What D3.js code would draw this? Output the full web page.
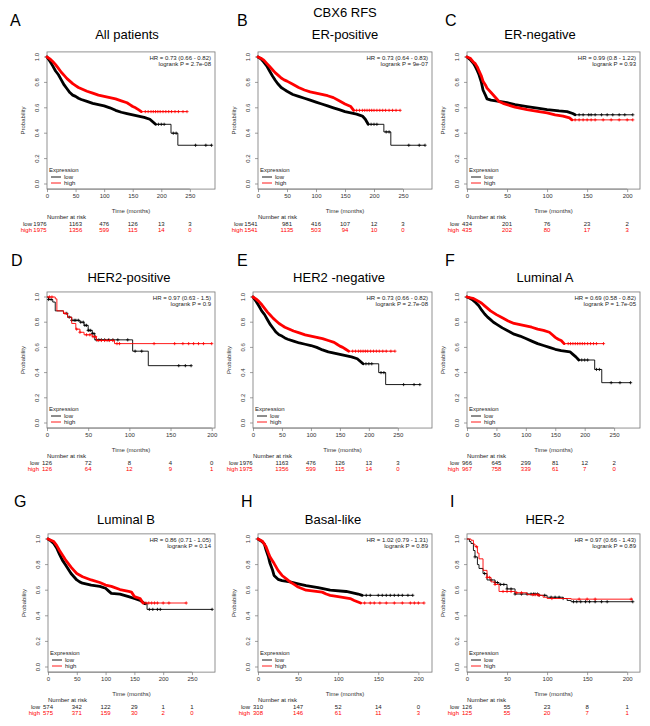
<!DOCTYPE html>
<html>
<head>
<meta charset="utf-8">
<script src="https://cdn.jsdelivr.net/npm/d3@7"></script>
<style>
body { margin: 0; background: #fff; }
svg { display: block; }
text { font-family: "Liberation Sans", Arial, sans-serif; }
</style>
</head>
<body>
<svg width="650" height="726"></svg>
<script>
// ---- data ----
const mainTitle = "CBX6 RFS";
const letters = ["A", "B", "C", "D", "E", "F", "G", "H", "I"];
const titles = ["All patients", "ER-positive", "ER-negative", "HER2-positive", "HER2 -negative",
                "Luminal A", "Luminal B", "Basal-like", "HER-2"];
const hrText = ["HR = 0.73 (0.66 - 0.82)", "HR = 0.73 (0.64 - 0.83)", "HR = 0.99 (0.8 - 1.22)",
                "HR = 0.97 (0.63 - 1.5)", "HR = 0.73 (0.66 - 0.82)", "HR = 0.69 (0.58 - 0.82)",
                "HR = 0.86 (0.71 - 1.05)", "HR = 1.02 (0.79 - 1.31)", "HR = 0.97 (0.66 - 1.43)"];
const pText = ["logrank P = 2.7e-08", "logrank P = 9e-07", "logrank P = 0.93",
               "logrank P = 0.9", "logrank P = 2.7e-08", "logrank P = 1.7e-05",
               "logrank P = 0.14", "logrank P = 0.89", "logrank P = 0.89"];
const ticks250 = [0, 50, 100, 150, 200, 250];
const ticks200 = [0, 50, 100, 150, 200];
const xTicks = [ticks250, ticks250, ticks200, ticks200, ticks250, ticks250, ticks250, ticks200, ticks200];
const xMax = [294, 300, 216, 204, 309, 294, 290, 217, 216];
const yTicks = [0, 0.2, 0.4, 0.6, 0.8, 1.0];

const riskLow = [
  [1976, 1163, 476, 126, 13, 3], [1541, 981, 416, 107, 12, 3], [434, 201, 76, 23, 2],
  [126, 72, 8, 4, 0], [1976, 1163, 476, 126, 13, 3], [966, 645, 299, 81, 12, 2],
  [574, 342, 122, 29, 1, 1], [310, 147, 52, 14, 0], [126, 55, 23, 8, 1]
];
const riskHigh = [
  [1975, 1356, 599, 115, 14, 0], [1541, 1135, 503, 94, 10, 0], [435, 202, 80, 17, 3],
  [126, 64, 12, 9, 1], [1975, 1356, 599, 115, 14, 0], [967, 758, 339, 61, 7, 0],
  [575, 371, 159, 30, 2, 0], [308, 146, 61, 11, 3], [125, 55, 20, 7, 1]
];

// survival: [month, survival]
const lowA = [[0,1],[3,0.98],[6,0.96],[10,0.93],[15,0.89],[20,0.86],[25,0.82],[30,0.78],[35,0.75],[40,0.72],[45,0.70],[50,0.69],[55,0.675],[60,0.665],[70,0.65],[80,0.635],[90,0.625],[100,0.615],[110,0.60],[120,0.58],[130,0.565],[140,0.555],[150,0.545],[160,0.535],[170,0.525],[180,0.51],[185,0.49],[190,0.47],[217,0.40],[229,0.305],[288,0.305]];
const highA = [[0,1],[5,0.985],[10,0.965],[15,0.94],[20,0.91],[25,0.88],[30,0.855],[35,0.83],[40,0.81],[45,0.79],[50,0.775],[55,0.76],[60,0.75],[70,0.73],[80,0.715],[90,0.70],[100,0.69],[110,0.68],[120,0.67],[130,0.655],[140,0.64],[145,0.625],[150,0.61],[155,0.60],[160,0.585],[165,0.57],[245,0.57]];
const lowB = [[0,1],[5,0.985],[10,0.96],[15,0.93],[20,0.89],[25,0.85],[30,0.815],[35,0.785],[40,0.76],[45,0.745],[50,0.73],[60,0.705],[70,0.69],[80,0.675],[90,0.66],[100,0.645],[110,0.63],[120,0.615],[130,0.60],[140,0.585],[150,0.57],[160,0.56],[170,0.55],[180,0.535],[185,0.51],[190,0.47],[217,0.41],[229,0.305],[288,0.305]];
const highB = [[0,1],[5,0.99],[10,0.975],[15,0.95],[20,0.925],[25,0.90],[30,0.875],[35,0.855],[40,0.835],[45,0.82],[50,0.81],[60,0.785],[70,0.76],[80,0.74],[90,0.725],[100,0.715],[110,0.705],[120,0.695],[130,0.68],[140,0.655],[150,0.63],[160,0.61],[165,0.58],[245,0.58]];
const lowC = [[0,1],[4,0.98],[8,0.95],[10,0.93],[13,0.89],[15,0.86],[18,0.80],[20,0.74],[23,0.70],[25,0.67],[30,0.66],[40,0.65],[50,0.64],[60,0.625],[75,0.61],[90,0.595],[100,0.585],[115,0.575],[125,0.57],[132,0.555],[135,0.545],[207,0.545]];
const highC = [[0,1],[4,0.99],[8,0.96],[10,0.95],[13,0.92],[15,0.89],[18,0.85],[20,0.81],[23,0.78],[25,0.755],[30,0.72],[35,0.685],[40,0.65],[45,0.635],[50,0.625],[60,0.605],[75,0.585],[90,0.57],[100,0.56],[110,0.545],[120,0.535],[128,0.52],[131,0.505],[207,0.505]];
const lowD = [[0,1],[2,0.98],[7,0.96],[10,0.89],[20,0.87],[25,0.84],[30,0.815],[40,0.80],[45,0.775],[50,0.735],[55,0.71],[58,0.66],[104,0.57],[123,0.455],[175,0.455]];
const highD = [[0,1],[10,0.985],[12,0.89],[20,0.87],[25,0.84],[30,0.79],[35,0.745],[40,0.72],[45,0.70],[55,0.685],[60,0.655],[82,0.63],[200,0.63]];
const lowE = lowA;   // HER2-negative shows the same numbers as all patients
const highE = highA;
const lowF = [[0,1],[5,0.99],[10,0.975],[15,0.955],[20,0.93],[25,0.895],[30,0.865],[35,0.84],[40,0.82],[45,0.80],[50,0.785],[60,0.755],[70,0.73],[80,0.705],[90,0.69],[100,0.67],[110,0.65],[120,0.63],[130,0.615],[140,0.60],[150,0.585],[160,0.575],[175,0.565],[180,0.545],[185,0.525],[190,0.50],[217,0.425],[229,0.32],[278,0.32]];
const highF = [[0,1],[10,0.99],[20,0.965],[25,0.95],[30,0.93],[40,0.89],[50,0.86],[60,0.835],[70,0.81],[80,0.79],[90,0.78],[100,0.77],[110,0.76],[120,0.745],[130,0.735],[140,0.72],[145,0.70],[150,0.68],[155,0.665],[160,0.655],[165,0.63],[232,0.63]];
const lowG = [[0,1],[5,0.985],[10,0.965],[15,0.93],[20,0.88],[25,0.835],[30,0.80],[35,0.765],[40,0.73],[45,0.705],[50,0.68],[55,0.665],[60,0.655],[75,0.64],[90,0.63],[100,0.615],[105,0.595],[110,0.575],[125,0.57],[140,0.55],[150,0.535],[160,0.52],[168,0.495],[172,0.45],[285,0.45]];
const highG = [[0,1],[5,0.99],[10,0.98],[15,0.95],[20,0.91],[25,0.875],[30,0.84],[35,0.81],[40,0.78],[45,0.755],[50,0.73],[60,0.705],[75,0.68],[90,0.66],[100,0.64],[110,0.63],[125,0.605],[140,0.59],[145,0.585],[150,0.55],[160,0.535],[165,0.50],[240,0.50]];
const lowH = [[0,1],[5,0.98],[8,0.96],[10,0.915],[13,0.86],[15,0.81],[18,0.76],[20,0.715],[25,0.685],[30,0.675],[40,0.665],[50,0.65],[60,0.635],[75,0.62],[90,0.60],[110,0.59],[125,0.57],[130,0.56],[193,0.56]];
const highH = [[0,1],[5,0.985],[8,0.96],[10,0.94],[13,0.89],[15,0.86],[18,0.83],[20,0.81],[25,0.755],[30,0.715],[35,0.69],[40,0.665],[45,0.645],[50,0.625],[60,0.60],[80,0.585],[85,0.57],[90,0.56],[100,0.55],[115,0.535],[120,0.52],[128,0.50],[207,0.50]];
const lowI = [[0,1],[3,0.98],[5,0.965],[8,0.91],[10,0.86],[13,0.80],[15,0.77],[20,0.73],[25,0.68],[35,0.66],[40,0.645],[50,0.61],[60,0.57],[90,0.56],[100,0.545],[120,0.535],[125,0.52],[130,0.51],[207,0.51]];
const highI = [[0,1],[5,0.99],[8,0.96],[10,0.94],[13,0.89],[15,0.845],[20,0.755],[25,0.70],[30,0.665],[35,0.645],[40,0.59],[60,0.58],[75,0.565],[90,0.56],[95,0.545],[100,0.535],[130,0.53],[207,0.53]];

// censored times (the "+" marks) outside the heavily censored stretch
const censLowA = [195, 200, 205, 221, 226, 260, 278, 288];
const censHighA = [172, 177, 182, 186, 190, 194, 198, 203, 208, 213, 218, 224, 230, 238, 245];
const censLowB = [195, 200, 205, 221, 226, 260, 278, 288];
const censHighB = [170, 175, 180, 184, 188, 192, 196, 200, 205, 210, 215, 220, 226, 232, 238, 245];
const censLowC = [140, 145, 152, 155, 160, 168, 175, 182, 190, 197, 207];
const censHighC = [135, 140, 145, 150, 155, 160, 170, 180, 190, 200, 207];
const censLowD = [2, 5, 24, 27, 30, 33, 35, 38, 41, 44, 46, 48, 50, 51, 53, 55, 57, 60, 63, 66, 70, 75, 80, 86, 98, 107, 115, 160, 168, 175];
const censHighD = [3, 6, 22, 36, 40, 48, 52, 56, 59, 62, 66, 70, 73, 76, 80, 85, 88, 130, 155, 165, 172, 178, 184, 190, 200];
const censLowE = censLowA;
const censHighE = censHighA;
const censLowF = [195, 200, 205, 220, 225, 245, 260, 278];
const censHighF = [172, 176, 180, 184, 188, 192, 196, 200, 205, 210, 215, 220, 232];
const censLowG = [170, 176, 182, 190, 195, 285];
const censHighG = [170, 175, 180, 185, 190, 200, 210, 240];
const censLowH = [135, 140, 150, 155, 160, 165, 170, 175, 180, 187, 193];
const censHighH = [133, 140, 145, 152, 160, 170, 180, 190, 195, 200, 207];
const censLowI = [10, 22, 30, 35, 38, 42, 46, 50, 55, 60, 68, 75, 80, 83, 85, 88, 90, 97, 105, 110, 115, 120, 133, 137, 142, 148, 153, 160, 168, 175, 207];
const censHighI = [12, 25, 28, 35, 45, 50, 55, 62, 68, 82, 85, 88, 90, 106, 140, 150, 160, 205];

// month ranges so heavily censored that the marks merge into a bold line
const denseLow = [[0, 190], [0, 190], [0, 135], [0, 0], [0, 190], [0, 190], [0, 168], [0, 130], [0, 0]];
const denseHigh = [[0, 165], [0, 165], [0, 131], [0, 0], [0, 165], [0, 165], [0, 165], [0, 128], [0, 0]];

const lowCurves = [lowA, lowB, lowC, lowD, lowE, lowF, lowG, lowH, lowI];
const highCurves = [highA, highB, highC, highD, highE, highF, highG, highH, highI];
const lowCens = [censLowA, censLowB, censLowC, censLowD, censLowE, censLowF, censLowG, censLowH, censLowI];
const highCens = [censHighA, censHighB, censHighC, censHighD, censHighE, censHighF, censHighG, censHighH, censHighI];

// ---- layout ----
const boxL = [47, 258, 467, 47, 253, 467, 48, 258, 467];
const boxR = [215, 432, 640, 215, 432, 640, 215, 432, 640];
const rowTop = [57, 297, 539];   // y of p = 1
const rowBot = [184, 423, 667];  // y of p = 0
const letterX = [10, 237, 445, 11, 237, 445, 14, 241, 450];
const letterY = [26, 266, 507];
const titleX = [127, 345, 540, 129, 339, 545, 126, 333, 545];
const titleY = [39, 282, 524];

const svg = d3.select("svg");
const small = 6;
const RED = "#ff0000";

svg.append("text")
    .attr("x", 345).attr("y", 17)
    .attr("text-anchor", "middle")
    .attr("font-size", 13)
    .text(mainTitle);

function survAt(curve, t) {
    let s = curve[0][1];
    for (const [ti, si] of curve) {
        if (ti <= t) s = si; else break;
    }
    return s;
}

function clipCurve(curve, a, b) {
    const pts = [[a, survAt(curve, a)]];
    curve.forEach(([t, s]) => { if (t > a && t < b) pts.push([t, s]); });
    pts.push([b, survAt(curve, b)]);
    return pts;
}

letters.forEach((L, i) => {
    const r = Math.floor(i / 3);
    const x = d3.scaleLinear().domain([0, xMax[i]]).range([boxL[i], boxR[i]]);
    const y = d3.scaleLinear().domain([0, 1]).range([rowBot[r], rowTop[r]]);
    const pad = 0.04 * (rowBot[r] - rowTop[r]);
    const bTop = rowTop[r] - pad, bBot = rowBot[r] + pad;
    const g = svg.append("g");

    g.append("text")
        .attr("x", letterX[i]).attr("y", letterY[r])
        .attr("font-size", 16)
        .text(L);
    g.append("text")
        .attr("x", titleX[i]).attr("y", titleY[r])
        .attr("text-anchor", "middle")
        .attr("font-size", 13)
        .text(titles[i]);

    // x axis
    const xa = d3.axisBottom(x).tickValues(xTicks[i]).tickSize(3).tickPadding(2).tickFormat(d3.format("d"));
    const gx = g.append("g").attr("transform", `translate(0,${bBot})`).call(xa);
    gx.select(".domain").remove();
    gx.selectAll("line").attr("stroke", "#777").attr("stroke-width", 0.7);
    gx.selectAll("text").attr("font-size", small).attr("fill", "#333")
        .attr("font-family", "Liberation Sans, Arial, sans-serif");
    const last = xTicks[i][xTicks[i].length - 1];
    g.append("line")
        .attr("x1", x(0)).attr("x2", x(last)).attr("y1", bBot).attr("y2", bBot)
        .attr("stroke", "#777").attr("stroke-width", 0.7);

    // y axis, R style: labels parallel to the axis
    yTicks.forEach(v => {
        g.append("line")
            .attr("x1", boxL[i] - 3).attr("x2", boxL[i])
            .attr("y1", y(v)).attr("y2", y(v))
            .attr("stroke", "#777").attr("stroke-width", 0.7);
        g.append("text")
            .attr("transform", `translate(${boxL[i] - 8.5},${y(v)}) rotate(-90)`)
            .attr("text-anchor", "middle")
            .attr("font-size", small).attr("fill", "#333")
            .text(v.toFixed(1));
    });
    g.append("text")
        .attr("transform", `translate(${boxL[i] - 22},${(rowTop[r] + rowBot[r]) / 2}) rotate(-90)`)
        .attr("text-anchor", "middle")
        .attr("font-size", small).attr("fill", "#333")
        .text("Probability");

    g.append("rect")
        .attr("x", boxL[i]).attr("y", bTop)
        .attr("width", boxR[i] - boxL[i]).attr("height", bBot - bTop)
        .attr("fill", "none").attr("stroke", "#777").attr("stroke-width", 0.8);

    g.append("text")
        .attr("x", (boxL[i] + boxR[i]) / 2).attr("y", bBot + 24)
        .attr("text-anchor", "middle")
        .attr("font-size", small).attr("fill", "#333")
        .text("Time (months)");

    // curves: thin steps where censoring is sparse, a bold band where the "+" marks pile up
    const stepLine = d3.line().x(d => x(d[0])).y(d => y(d[1])).curve(d3.curveStepAfter);
    const boldLine = d3.line().x(d => x(d[0])).y(d => y(d[1])).curve(d3.curveLinear);
    const series = [
        { curve: lowCurves[i], cens: lowCens[i], dense: denseLow[i], color: "#000" },
        { curve: highCurves[i], cens: highCens[i], dense: denseHigh[i], color: RED }
    ];
    series.forEach(s => {
        const end = s.curve[s.curve.length - 1][0];
        const [d0, d1] = s.dense;
        if (d1 > d0) {
            if (d0 > 0) {
                g.append("path").datum(clipCurve(s.curve, 0, d0)).attr("d", stepLine)
                    .attr("fill", "none").attr("stroke", s.color).attr("stroke-width", 0.9);
            }
            g.append("path").datum(clipCurve(s.curve, d1, end)).attr("d", stepLine)
                .attr("fill", "none").attr("stroke", s.color).attr("stroke-width", 0.9);
            g.append("path").datum(clipCurve(s.curve, d0, d1)).attr("d", boldLine)
                .attr("fill", "none").attr("stroke", s.color).attr("stroke-width", 2.8)
                .attr("stroke-linejoin", "round").attr("stroke-linecap", "round");
        } else {
            g.append("path").datum(s.curve).attr("d", stepLine)
                .attr("fill", "none").attr("stroke", s.color).attr("stroke-width", 0.9);
        }
        s.cens.forEach(t => {
            const cx = x(t), cy = y(survAt(s.curve, t));
            g.append("path")
                .attr("d", `M${cx - 1.6},${cy}H${cx + 1.6}M${cx},${cy - 1.6}V${cy + 1.6}`)
                .attr("stroke", s.color).attr("stroke-width", 0.8);
        });
    });

    // HR / logrank
    g.append("text")
        .attr("x", boxR[i] - 4).attr("y", bTop + 8)
        .attr("text-anchor", "end").attr("font-size", small).attr("fill", "#222")
        .text(hrText[i]);
    g.append("text")
        .attr("x", boxR[i] - 4).attr("y", bTop + 14.5)
        .attr("text-anchor", "end").attr("font-size", small).attr("fill", "#222")
        .text(pText[i]);

    // legend
    const lx = boxL[i] + 2;
    g.append("text")
        .attr("x", lx).attr("y", rowBot[r] - 12)
        .attr("font-size", small).attr("fill", "#222")
        .text("Expression");
    [["low", "#000", rowBot[r] - 7], ["high", RED, rowBot[r] - 1]].forEach(([lab, col, ly]) => {
        g.append("line")
            .attr("x1", lx + 2).attr("x2", lx + 12).attr("y1", ly).attr("y2", ly)
            .attr("stroke", col).attr("stroke-width", 0.9);
        g.append("text")
            .attr("x", lx + 15).attr("y", ly + 2)
            .attr("font-size", small).attr("fill", "#222")
            .text(lab);
    });

    // number at risk
    g.append("text")
        .attr("x", boxL[i]).attr("y", bBot + 30)
        .attr("font-size", small).attr("fill", "#222")
        .text("Number at risk");
    [["low", riskLow[i], "#222", 37], ["high", riskHigh[i], RED, 43]].forEach(([lab, vals, col, dy]) => {
        const first = String(vals[0]).length > 3 ? -7 : 0;
        g.append("text")
            .attr("x", x(0) + first - 8).attr("y", bBot + dy)
            .attr("text-anchor", "end")
            .attr("font-size", small).attr("fill", col)
            .text(lab);
        vals.forEach((v, k) => {
            g.append("text")
                .attr("x", x(xTicks[i][k]) + (k === 0 ? first : 0)).attr("y", bBot + dy)
                .attr("text-anchor", "middle")
                .attr("font-size", small).attr("fill", col)
                .text(v);
        });
    });
});
</script>
</body>
</html>
